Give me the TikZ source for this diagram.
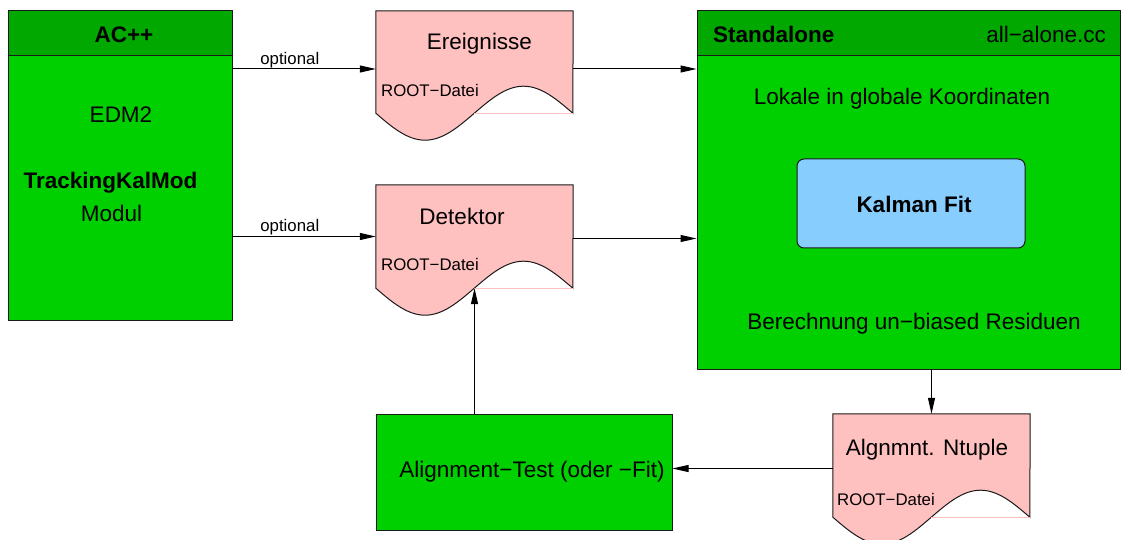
\documentclass[tikz,border=0pt]{standalone}
\usepackage{fontspec}
\setmainfont{Liberation Sans}
\usetikzlibrary{arrows.meta}

\definecolor{boxgreen}{HTML}{00D000}
\definecolor{headgreen}{HTML}{00A800}
\definecolor{filepink}{HTML}{FFC0C0}
\definecolor{fitblue}{HTML}{87CEFF}
\definecolor{edgegray}{HTML}{1A1A1A}

\tikzset{
  greenbox/.style={draw=edgegray, fill=boxgreen, line width=1pt, inner sep=0pt},
  headbox/.style={draw=edgegray, fill=headgreen, line width=1pt, inner sep=0pt},
  fitbox/.style={draw=edgegray, fill=fitblue, line width=1pt, rounded corners=7pt, inner sep=0pt},
  docbox/.style={minimum width=197pt, inner sep=0pt},
  bigtext/.style={font=\fontsize{22.5}{27}\selectfont, inner sep=0pt},
  bigbold/.style={font=\fontsize{22.5}{27}\selectfont\bfseries, inner sep=0pt},
  smalltext/.style={font=\fontsize{16.8}{20}\selectfont, inner sep=0pt},
  arr/.style={-{Triangle[length=16pt,width=7pt]}, line width=1pt, draw=black},
}

% document (file) symbol: rectangle with a sine-shaped lower edge
\newcommand\drawdoc[1]{%
  \filldraw[fill=filepink, draw=edgegray, line width=1pt]
    (#1.south west) sin ++(49.25,27) cos ++(49.25,-27)
    sin ++(49.25,-27) cos ++(49.25,27)
    -- (#1.north east) -- (#1.north west) -- cycle;
  \draw[filepink, line width=0.5pt] ([xshift=98.5pt]#1.south west) -- (#1.south east);
}

\begin{document}
\begin{tikzpicture}[x=1pt, y=-1pt]
\useasboundingbox (0,0) rectangle (1122,540);

% AC++ module
\node[greenbox, minimum width=224pt, minimum height=309pt] (ac) at (120,165.5) {};
\node[headbox, minimum width=224pt, minimum height=45pt, anchor=north] (achead) at (ac.north) {};
\node[bigbold, anchor=base] (actitle) at (124,43) {AC++};
\node[bigtext, anchor=base] (edm) at (121,123) {EDM2};
\node[bigbold, anchor=base] (tkm) at (110.5,189) {TrackingKalMod};
\node[bigtext, anchor=base] (modul) at (111.5,222) {Modul};

% Standalone program
\node[greenbox, minimum width=423pt, minimum height=358pt] (sa) at (908.5,190) {};
\node[headbox, minimum width=423pt, minimum height=45pt, anchor=north] (sahead) at (sa.north) {};
\node[bigbold, anchor=base west] (satitle) at (713,43) {Standalone};
\node[bigtext, anchor=base east] (safile) at (1106,43) {all−alone.cc};
\node[bigtext, anchor=base] (lokal) at (902,105) {Lokale in globale Koordinaten};
\node[fitbox, minimum width=228pt, minimum height=89pt] (kal) at (911,203.5) {};
\node[bigbold, anchor=base] (kaltext) at (914,213) {Kalman Fit};
\node[bigtext, anchor=base] (resid) at (914,329) {Berechnung un−biased Residuen};

% Alignment test
\node[greenbox, minimum width=296pt, minimum height=116pt] (align) at (524,472) {};
\node[bigtext, anchor=base] (aligntext) at (532,477) {Alignment−Test (oder −Fit)};

% ROOT files
\node[docbox, minimum height=102pt] (ereig) at (474.5,62) {};
\drawdoc{ereig}
\node[bigtext, anchor=base] (ereigtext) at (479.5,50) {Ereignisse};
\node[smalltext, anchor=base west] (ereigroot) at (381,97) {ROOT−Datei};

\node[docbox, minimum height=103pt] (det) at (474.5,236.5) {};
\drawdoc{det}
\node[bigtext, anchor=base] (dettext) at (462,225) {Detektor};
\node[smalltext, anchor=base west] (detroot) at (381,270) {ROOT−Datei};

\node[docbox, minimum height=103pt] (nt) at (931.5,465.5) {};
\drawdoc{nt}
\node[bigtext, anchor=base] (nttext) at (927,455) {Algnmnt. Ntuple};
\node[smalltext, anchor=base west] (ntroot) at (837,505) {ROOT−Datei};

% data flow
\coordinate (ereigin) at ([yshift=-7pt]ereig.west);
\coordinate (ereigout) at ([yshift=-7pt]ereig.east);
\coordinate (detout) at ([yshift=-2pt]det.east);
\coordinate (ntout) at ([yshift=-3pt]nt.west);

\draw[arr] (ereigin -| ac.east) -- (ereigin)
  node[smalltext, pos=0.4, anchor=base, yshift=4pt] (opt1) {optional};
\draw[arr] (det.west -| ac.east) -- (det.west)
  node[smalltext, pos=0.4, anchor=base, yshift=5pt] (opt2) {optional};
\draw[arr] (ereigout) -- (ereigout -| sa.west);
\draw[arr] (detout) -- (detout -| sa.west);
\draw[arr] (nt.north |- sa.south) -- (nt.north);
\draw[arr] (ntout) -- (ntout -| align.east);
\draw[arr] (det.south |- align.north) -- (det.south);
\end{tikzpicture}
\end{document}
